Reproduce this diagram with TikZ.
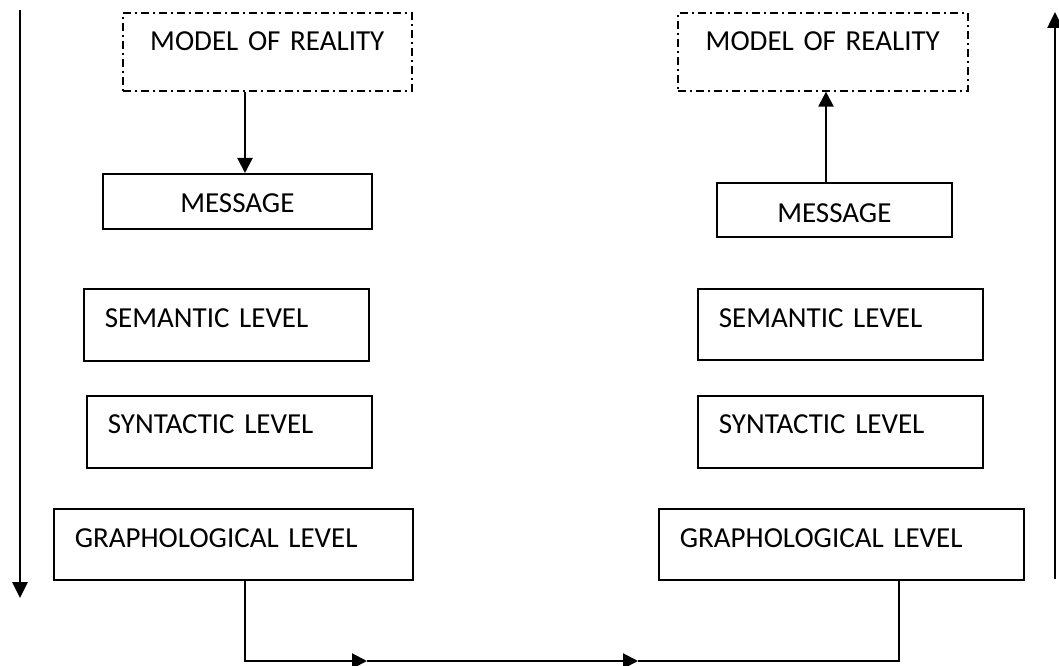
\documentclass[tikz,border=0pt]{standalone}
\usepackage{fontspec}
\setmainfont{Carlito}[WordSpace=0.8]
\usetikzlibrary{arrows.meta}
\begin{document}
\begin{tikzpicture}[x=1bp,y=-1bp,
  box/.style={draw, line width=1.7bp, anchor=north west, inner ysep=0pt, font=\fontsize{29bp}{35bp}\selectfont},
  lvl/.style={box, inner xsep=21bp, align=left},
  ctr/.style={box, inner xsep=0pt, align=center},
  mor/.style={ctr, line width=1.6bp, dash pattern=on 8bp off 4bp on 2bp off 4bp},
  arr/.style={line width=2.2bp, -{Triangle[length=15bp,width=15bp]}},
  side/.style={line width=2.6bp, -{Triangle[length=16bp,width=15bp]}},
  ln/.style={line width=2.2bp}]
\useasboundingbox (0,0) rectangle (1059,666);

% left column
\node[mor, text width=289bp, text height=38bp, text depth=40bp] (lmor) at (122,12) {MODEL OF REALITY};
\node[ctr, text width=269bp, text height=39bp, text depth=16bp] (lmsg) at (102,173) {MESSAGE};
\node[lvl, text width=243bp, text height=39bp, text depth=33bp] (lsem) at (83,288) {SEMANTIC LEVEL};
\node[lvl, text width=243bp, text height=38bp, text depth=34bp] (lsyn) at (86,395) {SYNTACTIC LEVEL};
\node[lvl, text width=317bp, text height=39bp, text depth=32bp] (lgr) at (53,508) {GRAPHOLOGICAL LEVEL};

% right column
\node[mor, text width=290bp, text height=38bp, text depth=40bp] (rmor) at (677,12) {MODEL OF REALITY};
\node[ctr, text width=235bp, text height=40bp, text depth=14bp] (rmsg) at (716,182) {MESSAGE};
\node[lvl, text width=243bp, text height=39bp, text depth=32bp] (rsem) at (697,288) {SEMANTIC LEVEL};
\node[lvl, text width=243bp, text height=38bp, text depth=34bp] (rsyn) at (697,395) {SYNTACTIC LEVEL};
\node[lvl, text width=323bp, text height=39bp, text depth=32bp] (rgr) at (658,508) {GRAPHOLOGICAL LEVEL};

% connector coordinates
\coordinate (a1) at (245,0);
\coordinate (a2) at (826,0);
\coordinate (c1) at (245,661);
\coordinate (m1) at (367,661);
\coordinate (m2) at (638,661);
\coordinate (c2) at (899,661);
\coordinate (l1) at (20,10);
\coordinate (l2) at (20,598);
\coordinate (r1) at (1055,579);
\coordinate (r2) at (1055,12);

% arrows between model and message
\draw[arr] (lmor.south -| a1) -- (lmsg.north -| a1);
\draw[arr] (rmsg.north -| a2) -- (rmor.south -| a2);

% bottom connector
\draw[arr] (lgr.south -| c1) |- (m1);
\draw[arr] (m1) -- (m2);
\draw[ln] (m2) -| (rgr.south -| c2);

% side arrows
\draw[side] (l1) -- (l2);
\draw[side] (r1) -- (r2);
\end{tikzpicture}
\end{document}
